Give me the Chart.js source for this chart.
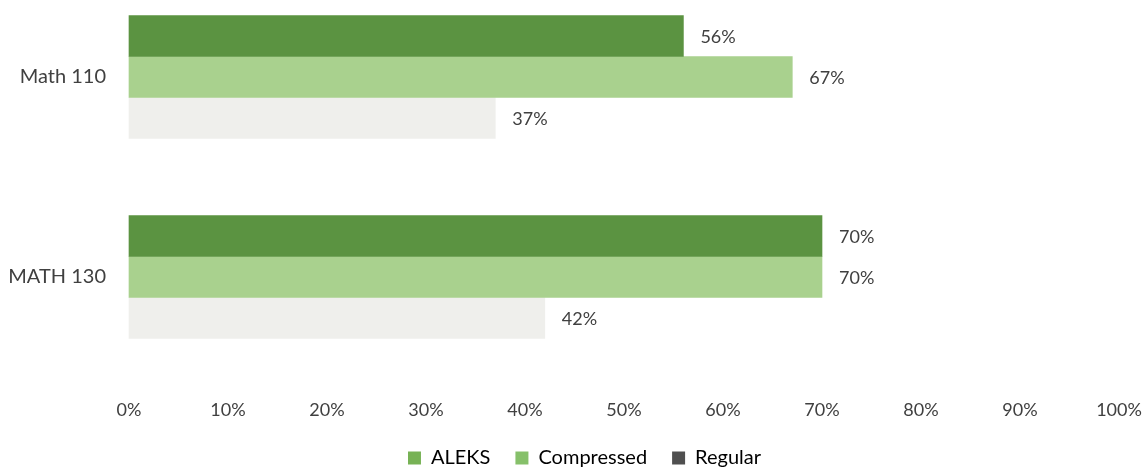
<!DOCTYPE html>
<html>
<head>
<meta charset="utf-8">
<script src="https://cdn.jsdelivr.net/npm/chart.js@4"></script>
<style>
    body { margin: 0; background: #ffffff; }
</style>
</head>
<body>
<canvas id="bar_chart" width="1147" height="468"></canvas>
<script>
const cursos = ['Math 110', 'MATH 130'];
const series = ['ALEKS', 'Compressed', 'Regular'];
const aleks = [56, 70];
const compressed = [67, 70];
const regular = [37, 42];
const ticksX = [0, 10, 20, 30, 40, 50, 60, 70, 80, 90, 100];

const fuente = "Lato, 'Open Sans', sans-serif";
const colores = ['#5b9341', '#a9d18e', '#efefec'];
const coloresLeyenda = ['#77b255', '#86c06a', '#4f4f4f'];

// percent text right after the end of every bar
const etiquetas = {
    id: 'etiquetas',
    afterDatasetsDraw(chart) {
        const ctx = chart.ctx;
        ctx.save();
        ctx.font = '18px ' + fuente;
        ctx.fillStyle = '#404040';
        ctx.textAlign = 'left';
        ctx.textBaseline = 'middle';
        chart.data.datasets.forEach((ds, i) => {
            chart.getDatasetMeta(i).data.forEach((bar, j) => {
                ctx.fillText(ds.data[j] + '%', bar.x + 17, bar.y + 1);
            });
        });
        ctx.restore();
    }
};

// nudge the legend row a bit to the right of the centre
const moverLeyenda = {
    id: 'moverLeyenda',
    afterLayout(chart) {
        chart.legend.left += 25;
        chart.legend.right += 25;
    }
};

function getChartJs() {
    const valores = [aleks, compressed, regular];
    let datasets = [];
    for (let i = 0; i < series.length; i++) {
        datasets.push({
            label: series[i],
            data: valores[i],
            backgroundColor: colores[i],
            barThickness: 41,
            clip: false
        });
    }

    return {
        type: 'bar',
        data: { labels: cursos, datasets: datasets },
        plugins: [etiquetas, moverLeyenda],
        options: {
            responsive: false,
            animation: false,
            indexAxis: 'y',
            // negative bottom padding lets the legend row sit close to the edge
            layout: { padding: { left: 0, right: 28, top: 77, bottom: -10 } },
            scales: {
                x: {
                    type: 'linear',
                    min: 0,
                    max: 100,
                    // hidden tick marks, their length only pushes the labels down
                    grid: { display: false, drawTicks: true, tickLength: 122 },
                    border: { display: false },
                    afterBuildTicks: (scale) => {
                        scale.ticks = ticksX.map(v => ({ value: v }));
                    },
                    afterFit: (scale) => {
                        scale.height = 146;
                    },
                    ticks: {
                        padding: 0,
                        color: '#404040',
                        maxRotation: 0,
                        font: { family: fuente, size: 18 },
                        callback: (v) => v + '%'
                    }
                },
                y: {
                    type: 'category',
                    offset: false,
                    grid: { display: false, drawTicks: true, tickLength: 23, offset: false },
                    border: { display: false },
                    afterFit: (scale) => {
                        scale.width = 129;
                    },
                    ticks: {
                        padding: 0,
                        color: '#404040',
                        font: { family: fuente, size: 20 }
                    }
                }
            },
            plugins: {
                tooltip: { enabled: false },
                legend: {
                    position: 'bottom',
                    labels: {
                        color: '#404040',
                        font: { family: fuente, size: 20 },
                        boxWidth: 13,
                        boxHeight: 13,
                        padding: 25,
                        generateLabels: (chart) => series.map((s, i) => ({
                            text: s,
                            fillStyle: coloresLeyenda[i],
                            strokeStyle: coloresLeyenda[i],
                            lineWidth: 0,
                            datasetIndex: i
                        }))
                    }
                }
            }
        }
    };
}

new Chart(document.getElementById("bar_chart").getContext("2d"), getChartJs());
</script>
</body>
</html>
